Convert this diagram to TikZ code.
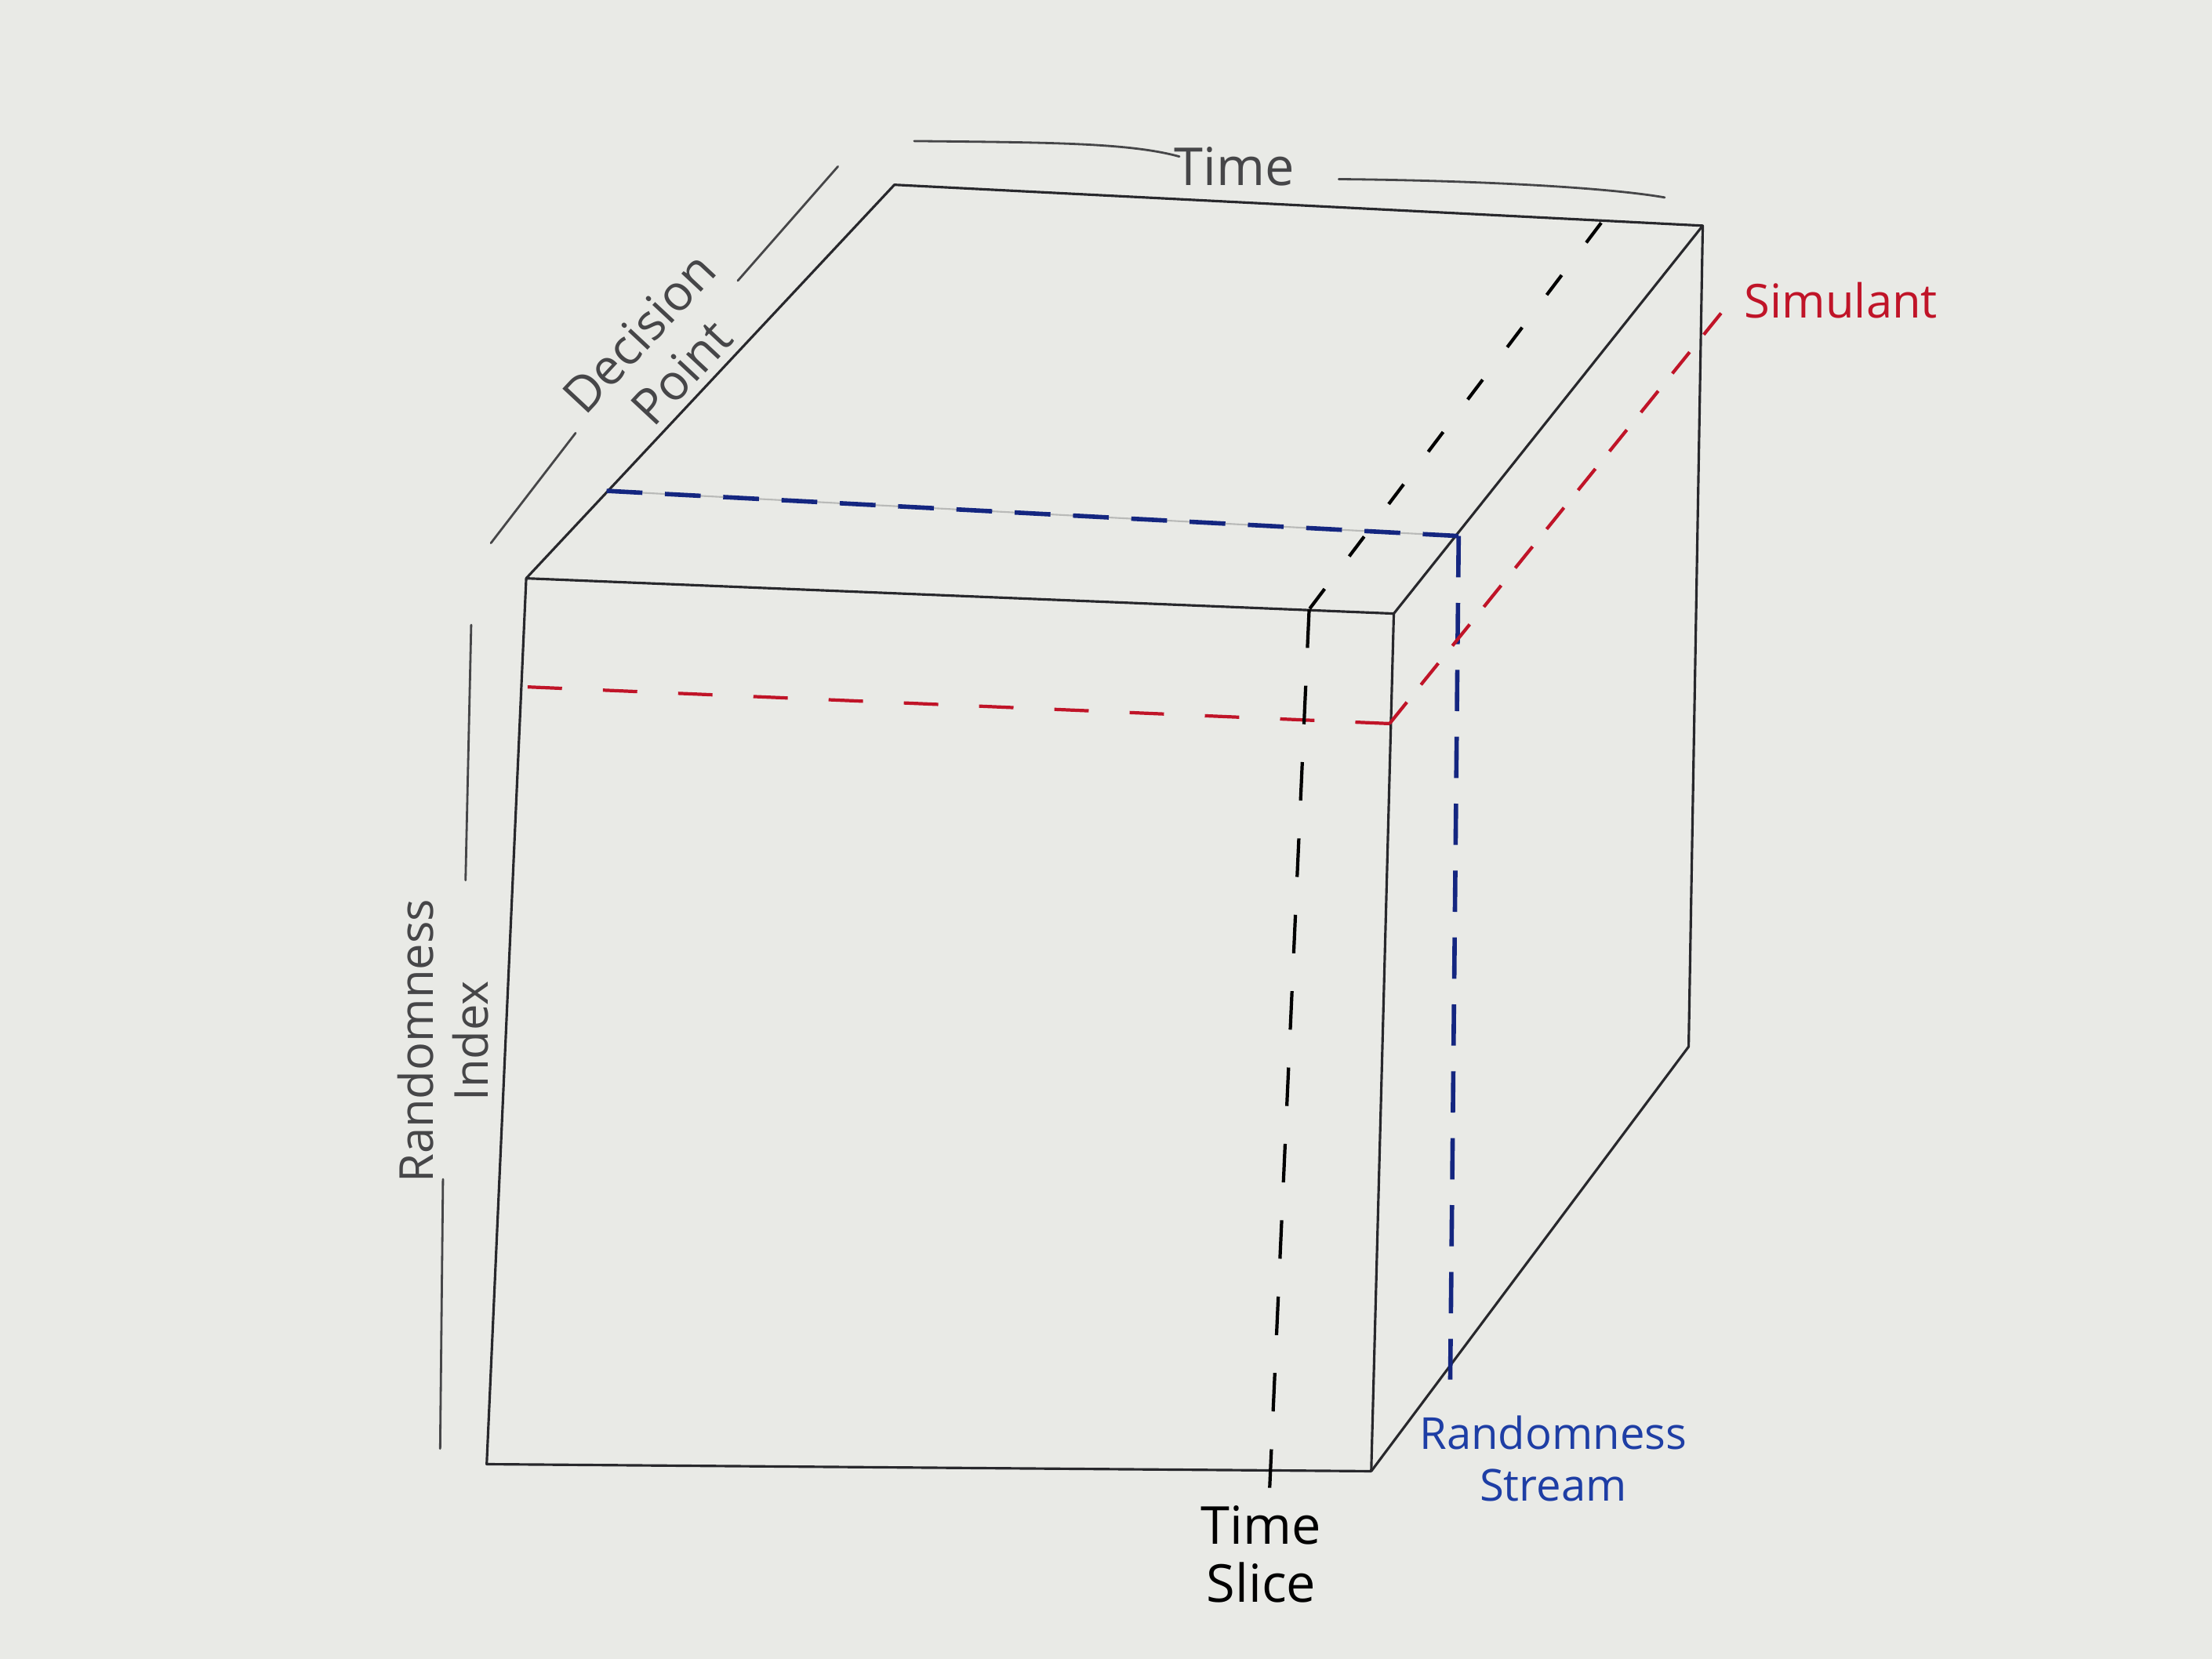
\documentclass[tikz,border=0pt]{standalone}
\usepackage{fontspec}
\setmainfont{Open Sans}
\definecolor{paper}{RGB}{233,234,230}
\definecolor{pencil}{RGB}{70,70,72}
\definecolor{ink}{RGB}{40,40,44}
\definecolor{redink}{RGB}{192,20,40}
\definecolor{blueink}{RGB}{20,38,128}
\definecolor{bluetext}{RGB}{30,62,165}
\definecolor{faint}{RGB}{185,186,184}
\begin{document}
\begin{tikzpicture}[x=0.018cm,y=-0.018cm,
  edge/.style={draw=ink,line width=0.9pt,line join=round},
  guide/.style={draw=pencil,line width=0.8pt,line cap=round},
  bluedash/.style={draw=blueink,line width=1.6pt},
  reddash/.style={draw=redink,line width=1.2pt},
  blackdash/.style={draw=black,line width=1.2pt},
  lbl/.style={inner sep=0pt,align=center}]
\fill[paper] (0,0) rectangle (1568,1176);
\useasboundingbox (0,0) rectangle (1568,1176);
% cube corners
\coordinate (A) at (373,410);
\coordinate (B) at (988,435);
\coordinate (C) at (972,1043);
\coordinate (D) at (345,1038);
\coordinate (E) at (634,131);
\coordinate (F) at (1207,160);
\coordinate (G) at (1197,742);
% dashed line ends
\coordinate (b1) at (430,348);
\coordinate (b2) at (1034,380);
\coordinate (b3) at (1028,978);
\coordinate (r1) at (374,487);
\coordinate (r2) at (985,513);
\coordinate (r3) at (1220,222);
\coordinate (k1) at (1135,158);
\coordinate (k2) at (928,432);
\coordinate (k3) at (900,1055);
% faint pencil guide under blue
\draw[faint,line width=0.6pt] (b1) -- (b2);
% cube
\draw[edge] (A) -- (B) -- (C) -- (D) -- cycle;
\draw[edge] (A) -- (E) -- (F) -- (B);
\draw[edge] (F) -- (G) -- (C);
% dashed slices
\draw[bluedash,dash pattern=on 13pt off 8.2pt] (b1) -- (b2);
\draw[bluedash,dash pattern=on 15pt off 9.3pt] (b2) -- (b3);
\draw[reddash,dash pattern=on 12.5pt off 14.85pt] (r1) -- (r2);
\draw[reddash,dash pattern=on 10pt off 8.16pt] (r2) -- (r3);
\draw[blackdash,dash pattern=on 9pt off 14.8pt] (k1) -- (k2);
\draw[blackdash,dash pattern=on 14pt off 13.76pt] (k2) -- (k3);
% guide lines
\draw[guide] (648,100) .. controls (740,101) and (800,101) .. (836,111);
\draw[guide] (949,127) .. controls (1050,128) and (1140,133) .. (1180,140);
\draw[guide] (594,118) -- (523,199);
\draw[guide] (408,307) -- (348,385);
\draw[guide] (334,443) -- (330,624);
\draw[guide] (314,836) -- (312,1027);
% labels
\node[lbl,text=pencil,font=\fontsize{19}{22}\selectfont] (time) at (875,118) {Time};
\node[lbl,text=pencil,rotate=47,font=\fontsize{18}{21}\selectfont] (dp) at (468,250) {Decision\\Point};
\node[lbl,text=pencil,rotate=90,font=\fontsize{17}{20}\selectfont] (ri) at (314,738) {Randomness\\Index};
\node[lbl,text=redink,font=\fontsize{17}{20}\selectfont] (sim) at (1305,213) {Simulant};
\node[lbl,text=bluetext,font=\fontsize{16}{19}\selectfont] (rs) at (1101,1034) {Randomness\\Stream};
\node[lbl,text=black,font=\fontsize{19}{21}\selectfont] (ts) at (894,1102) {Time\\Slice};
\end{tikzpicture}
\end{document}
